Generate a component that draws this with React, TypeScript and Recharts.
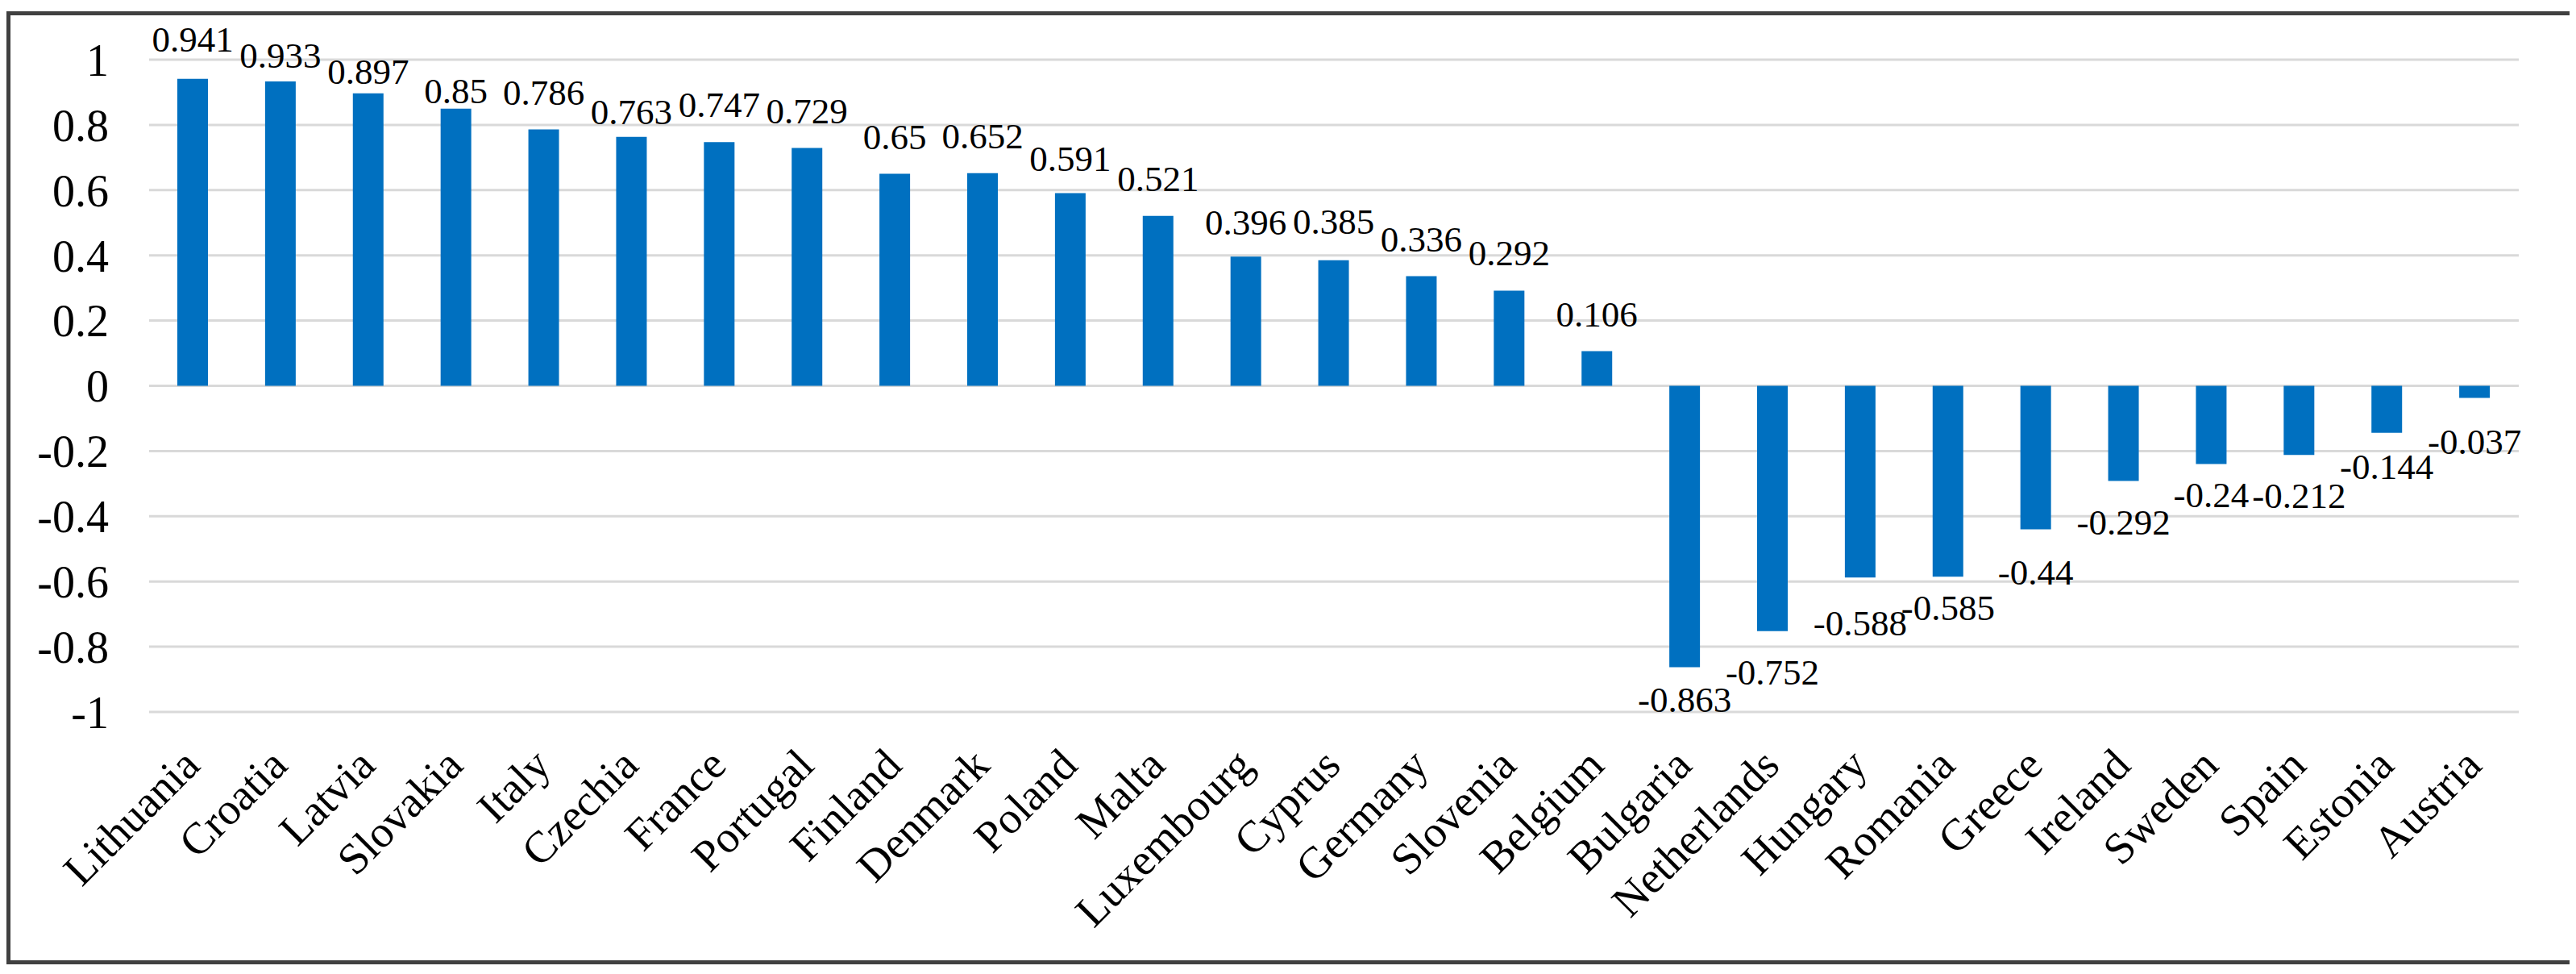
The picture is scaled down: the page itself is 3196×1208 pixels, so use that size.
import React from 'react';
import { BarChart, Bar, XAxis, YAxis, CartesianGrid, LabelList } from 'recharts';

const categories = [
  'Lithuania', 'Croatia', 'Latvia', 'Slovakia', 'Italy', 'Czechia', 'France', 'Portugal', 'Finland',
  'Denmark', 'Poland', 'Malta', 'Luxembourg', 'Cyprus', 'Germany', 'Slovenia', 'Belgium', 'Bulgaria',
  'Netherlands', 'Hungary', 'Romania', 'Greece', 'Ireland', 'Sweden', 'Spain', 'Estonia', 'Austria',
];

const values = [
  0.941, 0.933, 0.897, 0.85, 0.786, 0.763, 0.747, 0.729, 0.65,
  0.652, 0.591, 0.521, 0.396, 0.385, 0.336, 0.292, 0.106, -0.863,
  -0.752, -0.588, -0.585, -0.44, -0.292, -0.24, -0.212, -0.144, -0.037,
];

const yTicks = [-1, -0.8, -0.6, -0.4, -0.2, 0, 0.2, 0.4, 0.6, 0.8, 1];

// small vertical nudges of the value labels (px), as placed in the original
const labelNudge = [
  -3, 14, 19, 24, 0, 15, 0, 0, 0,
  0, 4, 0, 4, -2, 0, 0, 0, -11,
  0, 6, -12, 3, 0, -13, 0, -9, 4,
];

const data = categories.map((name, i) => ({ name, value: values[i] }));

const FONT = '"Liberation Serif", "Times New Roman", serif';

const XTick = (props: any) => {
  const { x, y, payload } = props;
  return (
    <g transform={`translate(${x + 11},${y + 69})`}>
      <text
        x={0}
        y={0}
        transform="rotate(-45)"
        textAnchor="end"
        fontFamily={FONT}
        fontSize={55}
        fill="#000"
      >
        {payload.value}
      </text>
    </g>
  );
};

const ValueLabel = (props: any) => {
  const { x, y, width, height, value, index } = props;
  const top = Math.min(y, y + height);
  const bottom = Math.max(y, y + height);
  const cx = x + width / 2;
  const nudge = labelNudge[index] || 0;
  const baseline = value >= 0 ? top - 31 + nudge : bottom + 66 + nudge;
  return (
    <text x={cx} y={baseline} textAnchor="middle" fontFamily={FONT} fontSize={45} fill="#000">
      {String(value)}
    </text>
  );
};

export default function App() {
  return (
    <div style={{ paddingTop: 6 }}>
      <div
        style={{
          width: 3185,
          height: 1182,
          border: '5px solid #404040',
          boxSizing: 'border-box',
          background: '#fff',
        }}
      >
        <BarChart
          width={3175}
          height={1172}
          data={data}
          margin={{ top: 55, right: 63, left: 0, bottom: 0 }}
        >
          <CartesianGrid vertical={false} stroke="#D9D9D9" strokeWidth={3} />
          <XAxis
            dataKey="name"
            interval={0}
            height={308}
            axisLine={false}
            tickLine={false}
            tickSize={0}
            tickMargin={0}
            tick={<XTick />}
          />
          <YAxis
            type="number"
            domain={[-1, 1]}
            ticks={yTicks}
            width={172}
            axisLine={false}
            tickLine={false}
            tickSize={0}
            tickMargin={50}
            tickFormatter={(v: number) => String(v)}
            tick={{ fontFamily: FONT, fontSize: 56, fill: '#000' }}
          />
          <Bar dataKey="value" fill="#0070C0" barSize={38} isAnimationActive={false}>
            <LabelList dataKey="value" content={<ValueLabel />} />
          </Bar>
        </BarChart>
      </div>
    </div>
  );
}
